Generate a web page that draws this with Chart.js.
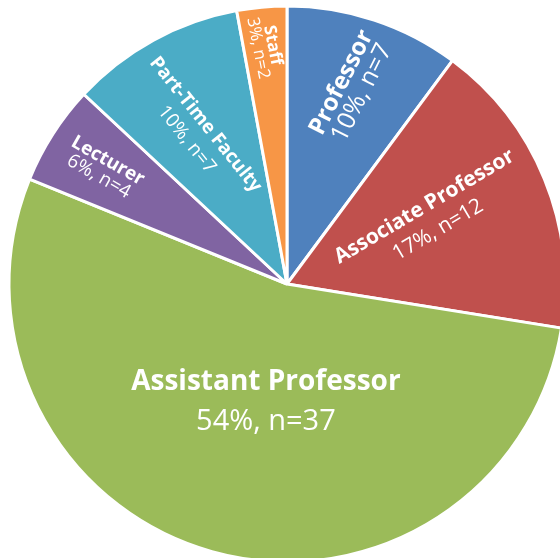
<!DOCTYPE html>
<html>
<head>
<meta charset="utf-8">
<script src="https://cdn.jsdelivr.net/npm/chart.js"></script>
<style>
    html, body {
        margin: 0;
        padding: 0;
        background: #ffffff;
        overflow: hidden;
        width: 560px;
        height: 558px;
    }
    #wrap {
        position: absolute;
        left: -13px;
        top: -16px;
        width: 600px;
        height: 600px;
    }
</style>
</head>
<body>
<div id="wrap"><canvas id="pieChart"></canvas></div>
<script>
// Faculty rank breakdown, clockwise from 12 o'clock
const categories = ['Professor', 'Associate Professor', 'Assistant Professor', 'Lecturer', 'Part-Time Faculty', 'Staff'];
const counts = [7, 12, 37, 4, 7, 2];
const sliceColors = ['#4F81BD', '#C0504D', '#9BBB59', '#8064A2', '#4BACC6', '#F79646'];

// label placement per slice: radius fraction, angle shift (deg), extra tilt (deg)
const labelLayout = [
    { frac: 0.743, shift: 0,    tilt: 8.5, nameSize: 24, valSize: 25, gap: 23 },
    { frac: 0.57,  shift: -2.3, tilt: -8.4, nameSize: 21, valSize: 21, gap: 27 },
    { frac: 0.43,  shift: -5.5, flat: true, nameSize: 28, valSize: 29, gap: 40 },
    { frac: 0.78,  shift: -0.5, tilt: -3,  nameSize: 19, valSize: 19, gap: 18 },
    { frac: 0.637, shift: -2.2, tilt: -10, nameSize: 19, valSize: 19, gap: 24 },
    { frac: 0.857, shift: 0,    tilt: -6,  nameSize: 17, valSize: 17, gap: 15 }
];

const total = counts.reduce((a, b) => a + b, 0);

// draws the rotated two-line labels inside each slice
const sliceLabels = {
    id: 'sliceLabels',
    afterDatasetsDraw(chart) {
        const ctx = chart.ctx;
        const meta = chart.getDatasetMeta(0);
        meta.data.forEach((arc, i) => {
            const p = arc.getProps(['x', 'y', 'startAngle', 'endAngle', 'outerRadius'], true);
            const lay = labelLayout[i];
            const mid = (p.startAngle + p.endAngle) / 2;
            const pos = mid + (lay.shift || 0) * Math.PI / 180;
            const r = p.outerRadius * lay.frac;
            const cx = p.x + Math.cos(pos) * r;
            const cy = p.y + Math.sin(pos) * r;

            let rot = Math.cos(mid) < 0 ? mid + Math.PI : mid;
            if (lay.flat) rot = 0;
            rot += (lay.tilt || 0) * Math.PI / 180;

            const pct = Math.round(counts[i] / total * 100);

            ctx.save();
            ctx.translate(cx, cy);
            ctx.rotate(rot);
            ctx.fillStyle = '#ffffff';
            ctx.textAlign = 'center';
            ctx.textBaseline = 'middle';
            ctx.font = 'bold ' + lay.nameSize + 'px "Open Sans"';
            ctx.fillText(categories[i], 0, -lay.gap / 2);
            ctx.font = lay.valSize + 'px "Open Sans"';
            ctx.fillText(pct + '%, n=' + counts[i], 0, lay.gap / 2);
            ctx.restore();
        });
    }
};

new Chart(document.getElementById('pieChart'), {
    type: 'pie',
    data: {
        labels: categories,
        datasets: [{
            data: counts,
            backgroundColor: sliceColors,
            borderColor: '#ffffff',
            borderWidth: 3,
            hoverOffset: 0
        }]
    },
    options: {
        responsive: true,
        maintainAspectRatio: false,
        animation: false,
        radius: 278,
        layout: { padding: 0 },
        events: [],
        plugins: {
            legend: { display: false },
            tooltip: { enabled: false }
        }
    },
    plugins: [sliceLabels]
});
</script>
</body>
</html>
